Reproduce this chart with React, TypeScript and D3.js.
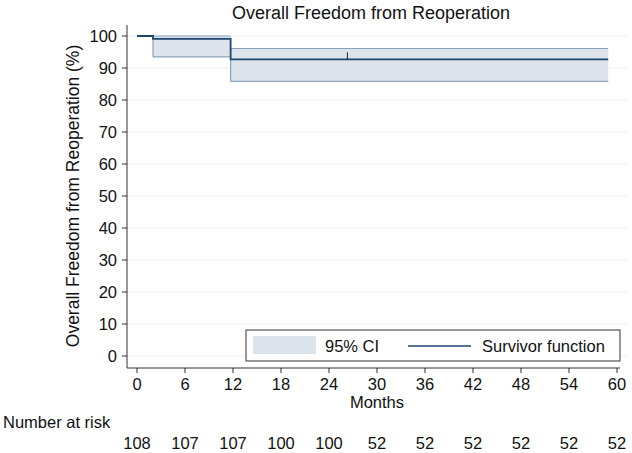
import * as d3 from "d3";

// survival step function (months, percent)
const survTimes = [0, 2, 11.7, 58.9];
const survValues = [100, 99.1, 92.7, 92.7];
const ciStart = [2, 11.7];
const ciEnd = [11.7, 58.9];
const ciUpper = [100, 96.1];
const ciLower = [93.5, 85.8];
const censorTimes = [26.3];
const censorValue = 92.7;

const xTicks = [0, 6, 12, 18, 24, 30, 36, 42, 48, 54, 60];
const yTicks = [0, 10, 20, 30, 40, 50, 60, 70, 80, 90, 100];
const atRisk = [108, 107, 107, 100, 100, 52, 52, 52, 52, 52, 52];

const W = 632;
const H = 453;
const font = "'Liberation Sans', Arial, Helvetica, sans-serif";
const navy = "#1a476f";
const fs = 16.5;

export default function App() {
  const x = d3.scaleLinear().domain([0, 60]).range([137, 617]);
  const y = d3.scaleLinear().domain([0, 100]).range([356, 36]);

  const survPts: [number, number][] = survTimes.map((t, i) => [t, survValues[i]]);
  const survLine = d3
    .line<[number, number]>()
    .x((d) => x(d[0]))
    .y((d) => y(d[1]))
    .curve(d3.curveStepAfter)(survPts);

  return (
    <svg width={W} height={H} style={{ position: "absolute", left: 0, top: 0 }} fontFamily={font}>
      <rect width={W} height={H} fill="#fff" />
      <text x={371} y={19} textAnchor="middle" fontSize={18} fill="#111">
        Overall Freedom from Reoperation
      </text>

      {/* gridlines */}
      {yTicks.map((t) => (
        <line key={t} x1={128} x2={628} y1={y(t)} y2={y(t)} stroke="#eaf2f3" strokeWidth={1} />
      ))}

      {/* CI bands */}
      {ciStart.map((s, i) => (
        <g key={i}>
          <rect
            x={x(s)}
            y={y(ciUpper[i])}
            width={x(ciEnd[i]) - x(s)}
            height={y(ciLower[i]) - y(ciUpper[i])}
            fill="#dde3ea"
          />
          <line x1={x(s)} x2={x(ciEnd[i])} y1={y(ciUpper[i])} y2={y(ciUpper[i])} stroke="#8aa3bb" strokeWidth={1.2} />
          <line x1={x(s)} x2={x(ciEnd[i])} y1={y(ciLower[i])} y2={y(ciLower[i])} stroke="#8aa3bb" strokeWidth={1.2} />
          <line x1={x(s)} x2={x(s)} y1={y(ciUpper[i])} y2={y(ciLower[i])} stroke="#8aa3bb" strokeWidth={1.2} />
        </g>
      ))}

      <path d={survLine ?? ""} fill="none" stroke={navy} strokeWidth={1.8} />
      {censorTimes.map((t) => (
        <line key={t} x1={x(t)} x2={x(t)} y1={y(censorValue) - 7} y2={y(censorValue)} stroke="#222" strokeWidth={1} />
      ))}

      {/* y axis */}
      <line x1={127} x2={127} y1={25} y2={368} stroke="#333" strokeWidth={1} />
      {yTicks.map((t) => (
        <g key={t}>
          <line x1={122} x2={127} y1={y(t)} y2={y(t)} stroke="#333" />
          <text x={117} y={y(t) + 6} textAnchor="end" fontSize={fs} fill="#111">
            {t}
          </text>
        </g>
      ))}
      <text
        transform={`translate(79,${y(50)}) rotate(-90)`}
        textAnchor="middle"
        fontSize={17.5}
        fill="#111"
      >
        Overall Freedom from Reoperation (%)
      </text>

      {/* x axis */}
      <line x1={127} x2={620} y1={368} y2={368} stroke="#333" strokeWidth={1} />
      {xTicks.map((t) => (
        <g key={t}>
          <line x1={x(t)} x2={x(t)} y1={368} y2={373} stroke="#333" />
          <text x={x(t)} y={390} textAnchor="middle" fontSize={fs} fill="#111">
            {t}
          </text>
        </g>
      ))}
      <text x={x(30)} y={408} textAnchor="middle" fontSize={fs} fill="#111">
        Months
      </text>

      {/* legend */}
      <rect x={246} y={330} width={374} height={31} fill="#fff" stroke="#333" strokeWidth={1} />
      <rect x={253} y={336} width={63} height={18} fill="#dde3ea" />
      <text x={325} y={352} fontSize={fs} fill="#111">
        95% CI
      </text>
      <line x1={408} x2={471} y1={346} y2={346} stroke={navy} strokeWidth={1.5} />
      <text x={482} y={352} fontSize={fs} fill="#111">
        Survivor function
      </text>

      {/* number at risk */}
      <text x={3} y={428} fontSize={fs} fill="#111">
        Number at risk
      </text>
      {xTicks.map((t, i) => (
        <text key={t} x={x(t)} y={449} textAnchor="middle" fontSize={fs} fill="#111">
          {atRisk[i]}
        </text>
      ))}
    </svg>
  );
}
